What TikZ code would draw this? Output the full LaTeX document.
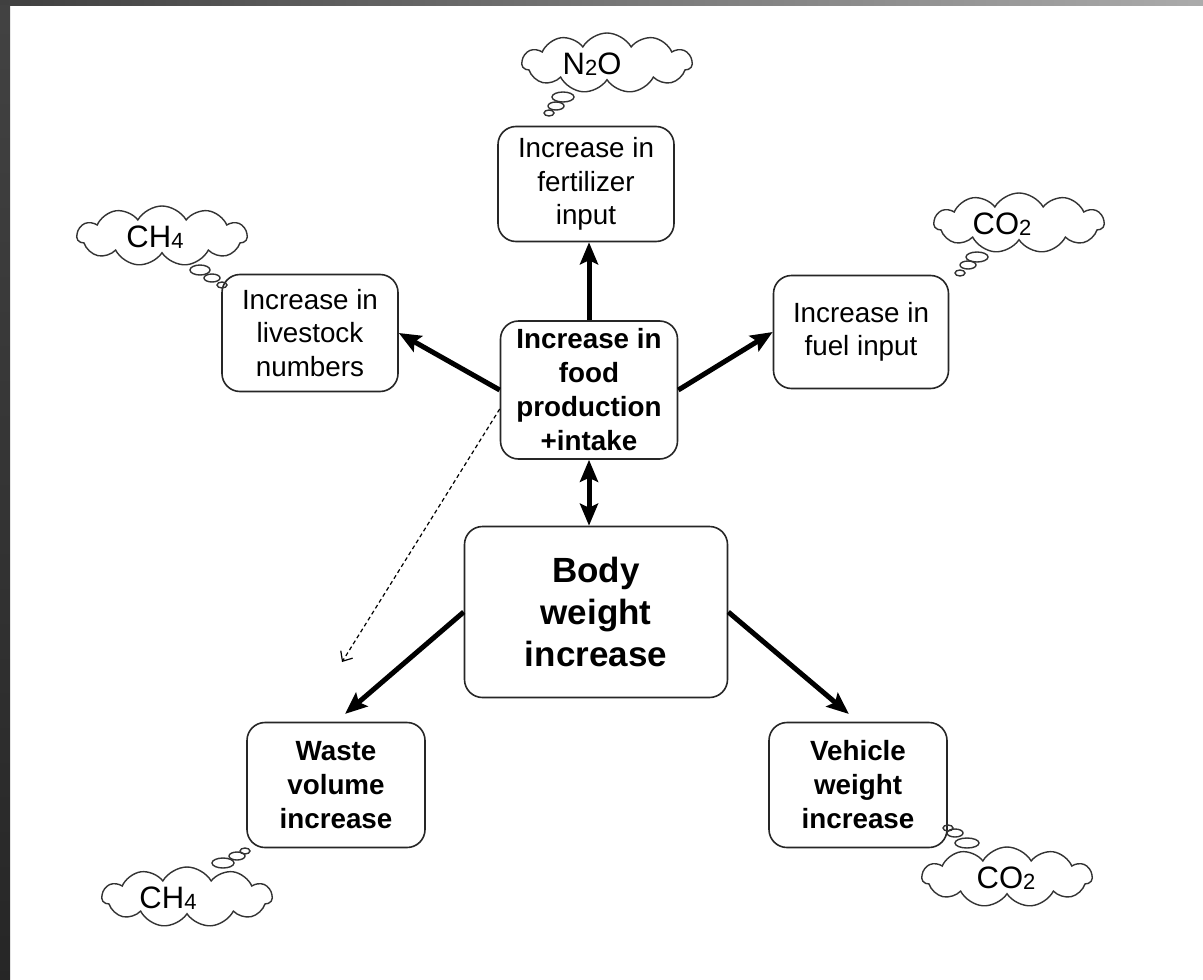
\documentclass[tikz,border=0pt]{standalone}
\usepackage{fontspec}
\setmainfont{Liberation Sans}
\usetikzlibrary{shapes.symbols,arrows.meta}
\newcommand\gsub[1]{\raisebox{-0.8pt}{\fontsize{11}{11}\selectfont #1}}
\begin{document}
\begin{tikzpicture}[x=0.5pt,y=-0.5pt,
 box/.style={draw=black!85,line width=0.8pt,rounded corners=9pt,align=center,inner sep=0pt,font=\fontsize{13.9}{16.8}\selectfont},
 bbox/.style={box,font=\fontsize{13.9}{17}\selectfont\bfseries},
 bigbox/.style={box,font=\fontsize{17.5}{21}\selectfont\bfseries},
 puff/.style={cloud,cloud puffs=11,cloud puff arc=120,aspect=2.8,draw=black!80,line width=0.7pt,inner sep=0pt,minimum width=85pt,minimum height=30pt},
 bub/.style={draw=black!80,line width=0.7pt},
 arr/.style={line width=2.5pt,-{Stealth[length=11pt,width=9pt,inset=2pt]}},
 darr/.style={line width=2.5pt,{Stealth[length=11pt,width=9pt,inset=2pt]}-{Stealth[length=11pt,width=9pt,inset=2pt]}},
 dash arr/.style={line width=0.6pt,dash pattern=on 2pt off 1.5pt,-{Straight Barb[length=4pt,width=7pt]}},
 gas/.style={font=\fontsize{15.5}{16}\selectfont}
]
\useasboundingbox (0,0) rectangle (1203,979);
\fill[white] (0,0) rectangle (1203,979);
\shade[left color=black!75,right color=black!33] (0,0) rectangle (1203,6);
\shade[top color=black!74,bottom color=black!85] (0,6) rectangle (10,979);

% boxes
\node[box,minimum width=88pt,minimum height=57.5pt] (fert) at (586,184) {Increase in\\fertilizer\\input};
\node[box,minimum width=88pt,minimum height=58.5pt] (live) at (310,333) {Increase in\\livestock\\numbers};
\node[box,minimum width=87.5pt,minimum height=56.5pt] (fuel) at (861,332) {Increase in\\fuel input};
\node[bbox,minimum width=88.5pt,minimum height=69pt] (food) at (589,390) {Increase in\\food\\production\\+intake};
\node[bigbox,minimum width=131.5pt,minimum height=85.5pt] (body) at (596,612) {Body\\weight\\increase};
\node[bbox,minimum width=89pt,minimum height=62.5pt] (waste) at (336,785) {Waste\\volume\\increase};
\node[bbox,minimum width=89pt,minimum height=62.5pt] (veh) at (858,785) {Vehicle\\weight\\increase};

% arrows
\draw[arr] (food.north) -- (food.north |- fert.south);
\draw[arr] (food.west) -- (live.east);
\draw[arr] (food.east) -- (fuel.west);
\draw[darr] (food.south) -- (food.south |- body.north);
\draw[arr,shorten >=6pt] (body.west) -- (waste.north);
\draw[arr,shorten >=6pt] (body.east) -- (veh.north);
\coordinate (dend) at (342,662);
\draw[dash arr] (food.192) -- (dend);

% clouds
\node[puff] (cN) at (607,63) {};
\node[gas] (tN) at (592,64) {N\gsub{2}O};
\draw[bub] (563,97) ellipse [x radius=5.5pt, y radius=2.5pt];
\draw[bub] (556,106) ellipse [x radius=4pt, y radius=2pt];
\draw[bub] (549,113) ellipse [x radius=2.5pt, y radius=1.5pt];

\node[puff] (cC1) at (162,236) {};
\node[gas] (tC1) at (155,237) {CH\gsub{4}};
\draw[bub] (200,270) ellipse [x radius=5pt, y radius=2.5pt];
\draw[bub] (212,278) ellipse [x radius=4pt, y radius=2pt];
\draw[bub] (222,285) ellipse [x radius=2.5pt, y radius=1.5pt];

\node[puff] (cO1) at (1019,223) {};
\node[gas] (tO1) at (1002,224) {CO\gsub{2}};
\draw[bub] (977,257) ellipse [x radius=5.5pt, y radius=2.5pt];
\draw[bub] (968,265) ellipse [x radius=4pt, y radius=2pt];
\draw[bub] (960,273) ellipse [x radius=2.5pt, y radius=1.5pt];

\node[puff] (cC2) at (187,897) {};
\node[gas] (tC2) at (168,898) {CH\gsub{4}};
\draw[bub] (223,863) ellipse [x radius=5.5pt, y radius=2.5pt];
\draw[bub] (237,856) ellipse [x radius=4pt, y radius=2pt];
\draw[bub] (245,851) ellipse [x radius=2.5pt, y radius=1.5pt];

\node[puff] (cO2) at (1007,877) {};
\node[gas] (tO2) at (1006,878) {CO\gsub{2}};
\draw[bub] (967,843) ellipse [x radius=6pt, y radius=2.5pt];
\draw[bub] (955,833) ellipse [x radius=4pt, y radius=2pt];
\draw[bub] (948,828) ellipse [x radius=2.5pt, y radius=1.5pt];
\end{tikzpicture}
\end{document}
